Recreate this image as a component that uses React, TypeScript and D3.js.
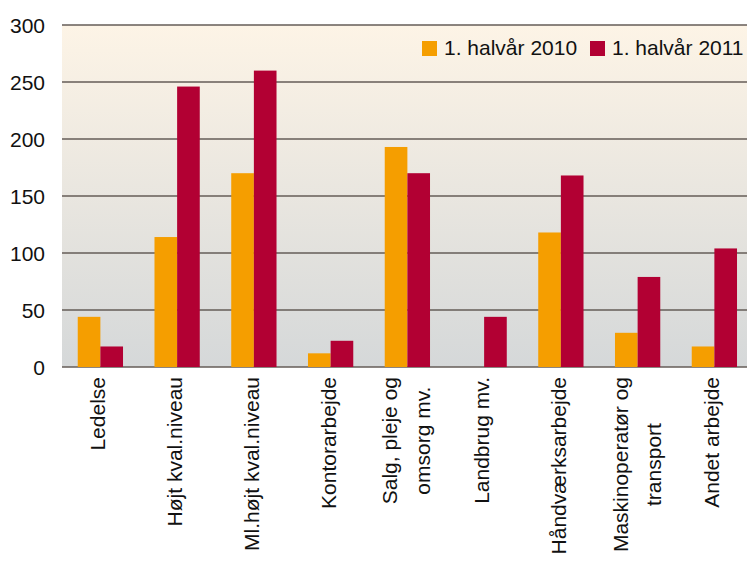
import React, { useEffect, useRef } from "react";
import * as d3 from "d3";

const categories = [
  "Ledelse",
  "Højt kval.niveau",
  "Ml.højt kval.niveau",
  "Kontorarbejde",
  "Salg, pleje og|omsorg mv.",
  "Landbrug mv.",
  "Håndværksarbejde",
  "Maskinoperatør og|transport",
  "Andet arbejde",
];

const seriesNames = ["1. halvår 2010", "1. halvår 2011"];
const values2010 = [44, 114, 170, 12, 193, 0, 118, 30, 18];
const values2011 = [18, 246, 260, 23, 170, 44, 168, 79, 104];
const yTicks = [0, 50, 100, 150, 200, 250, 300];

const colors = ["#f59e00", "#b20033"];

const width = 747;
const height = 562;
const font = "'Liberation Sans', Arial, sans-serif";

export default function App() {
  const svgRef = useRef<SVGSVGElement>(null);

  useEffect(() => {
    const svg = d3.select(svgRef.current);
    svg.selectAll("*").remove();

    const left = 62;
    const top = 25;
    const bottom = 367;
    const step = 76.75;

    const x = d3
      .scaleBand<string>()
      .domain(categories)
      .range([left, left + step * categories.length])
      .paddingInner(0.41)
      .paddingOuter(0.205);

    const x1 = d3
      .scaleBand<string>()
      .domain(seriesNames)
      .range([0, x.bandwidth()]);

    const y = d3.scaleLinear().domain([0, 300]).range([bottom, top]);

    const grad = svg
      .append("defs")
      .append("linearGradient")
      .attr("id", "bg")
      .attr("x1", 0)
      .attr("y1", 0)
      .attr("x2", 0)
      .attr("y2", 1);
    grad.append("stop").attr("offset", "0%").attr("stop-color", "#fdf4e6");
    grad.append("stop").attr("offset", "100%").attr("stop-color", "#d5d8d9");

    svg
      .append("rect")
      .attr("x", left)
      .attr("y", y(300))
      .attr("width", width - left)
      .attr("height", y(0) - y(300))
      .attr("fill", "url(#bg)");

    // grid lines
    svg
      .append("g")
      .selectAll("line")
      .data(yTicks)
      .join("line")
      .attr("x1", left)
      .attr("x2", width)
      .attr("y1", (d) => y(d))
      .attr("y2", (d) => y(d))
      .attr("stroke", "#645d57")
      .attr("stroke-width", 1.5);

    // y labels
    svg
      .append("g")
      .selectAll("text")
      .data(yTicks)
      .join("text")
      .attr("x", 45)
      .attr("y", (d) => y(d))
      .attr("dy", "0.36em")
      .attr("text-anchor", "end")
      .attr("font-family", font)
      .attr("font-size", 21)
      .attr("fill", "#111")
      .text((d) => d);

    // bars
    const groups = svg
      .append("g")
      .selectAll("g")
      .data(categories)
      .join("g")
      .attr("transform", (d) => `translate(${x(d)},0)`);

    groups
      .selectAll("rect")
      .data((_, i) => [
        { key: seriesNames[0], v: values2010[i] },
        { key: seriesNames[1], v: values2011[i] },
      ])
      .join("rect")
      .attr("x", (d) => x1(d.key)!)
      .attr("width", x1.bandwidth())
      .attr("y", (d) => y(d.v))
      .attr("height", (d) => y(0) - y(d.v))
      .attr("fill", (_, i) => colors[i]);

    // category labels, rotated
    svg
      .append("g")
      .selectAll("text")
      .data(categories)
      .join("text")
      .attr("transform", (d) => `translate(${x(d)! + x.bandwidth() / 2},377) rotate(-90)`)
      .attr("font-family", font)
      .attr("font-size", 21)
      .attr("fill", "#111")
      .each(function (d) {
        const lines = d.split("|");
        const t = d3.select(this);
        if (lines.length === 1) {
          t.append("tspan").attr("x", 0).attr("y", 5).attr("text-anchor", "end").text(lines[0]);
        } else {
          const longest = d3.max(lines, (l) => l.length)!;
          lines.forEach((l, i) => {
            t.append("tspan")
              .attr("x", 0)
              .attr("y", -10 + i * 33)
              .attr("text-anchor", "end")
              .attr("dx", l.length === longest ? 0 : 0)
              .attr("class", "ln")
              .text(l);
          });
        }
      });

    // center shorter lines of two-line labels
    svg.selectAll<SVGTSpanElement, unknown>("tspan.ln").each(function () {
      const sib = Array.from(this.parentNode!.childNodes) as SVGTSpanElement[];
      const maxW = d3.max(sib, (s) => s.getComputedTextLength())!;
      const w = this.getComputedTextLength();
      d3.select(this).attr("x", -(maxW - w) / 2);
    });

    // legend
    const legend = svg.append("g");
    const legendX = [422, 590];
    seriesNames.forEach((name, i) => {
      legend
        .append("rect")
        .attr("x", legendX[i])
        .attr("y", 41)
        .attr("width", 15)
        .attr("height", 15)
        .attr("fill", colors[i]);
      legend
        .append("text")
        .attr("x", legendX[i] + 22)
        .attr("y", 55)
        .attr("font-family", font)
        .attr("font-size", 21)
        .attr("fill", "#111")
        .text(name);
    });
  }, []);

  return (
    <svg
      ref={svgRef}
      width={width}
      height={height}
      style={{ position: "absolute", left: 0, top: 0, background: "#fff" }}
    />
  );
}
